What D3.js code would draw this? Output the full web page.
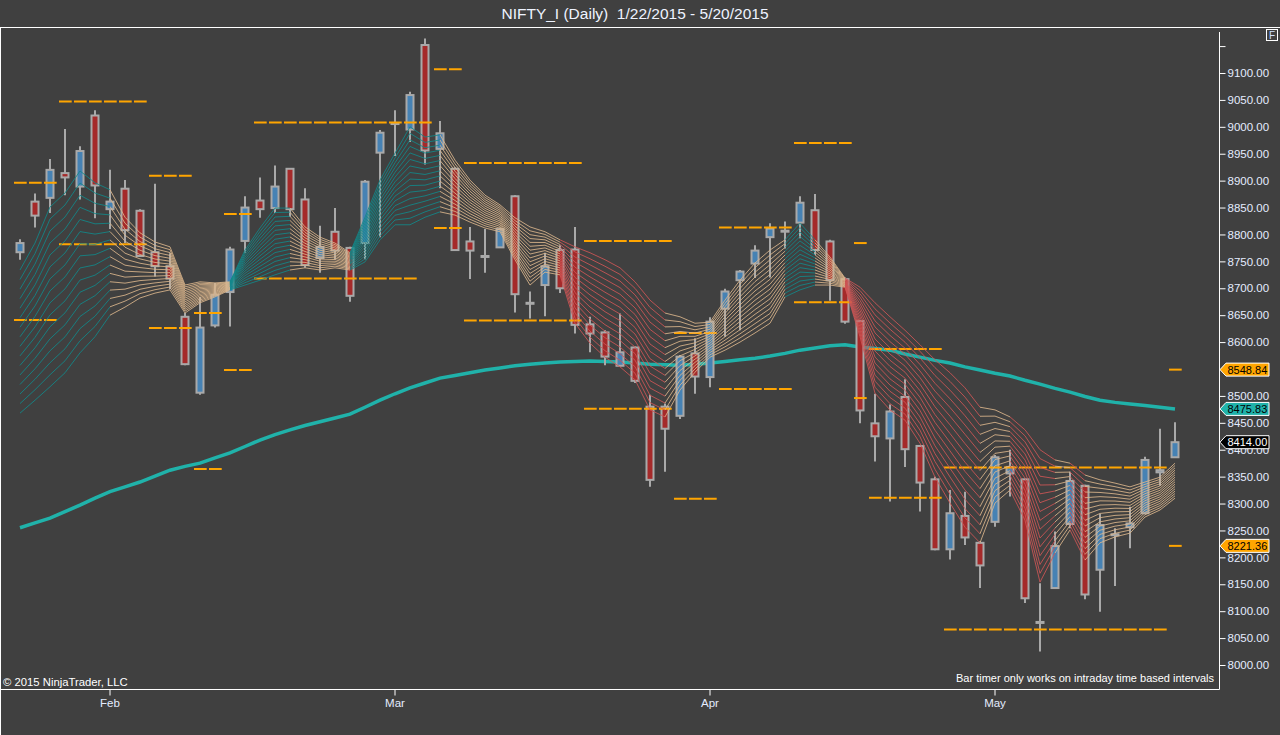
<!DOCTYPE html>
<html>
<head>
<meta charset="utf-8">
<script src="https://cdn.jsdelivr.net/npm/d3@7"></script>
<style>
  body { margin: 0; background: #404040; }
  svg { display: block; }
</style>
</head>
<body>
<div id="chart"></div>
<script>
// trading days shown on the chart
const dates = [
  "2015-01-22","2015-01-23","2015-01-27","2015-01-28","2015-01-29","2015-01-30",
  "2015-02-02","2015-02-03","2015-02-04","2015-02-05","2015-02-06","2015-02-09","2015-02-10","2015-02-11","2015-02-12","2015-02-13",
  "2015-02-16","2015-02-18","2015-02-19","2015-02-20","2015-02-23","2015-02-24","2015-02-25","2015-02-26","2015-02-27",
  "2015-03-02","2015-03-03","2015-03-04","2015-03-05","2015-03-09","2015-03-10","2015-03-11","2015-03-12","2015-03-13",
  "2015-03-16","2015-03-17","2015-03-18","2015-03-19","2015-03-20","2015-03-23","2015-03-24","2015-03-25","2015-03-26","2015-03-27",
  "2015-03-30","2015-03-31",
  "2015-04-01","2015-04-06","2015-04-07","2015-04-08","2015-04-09","2015-04-10","2015-04-13","2015-04-15","2015-04-16","2015-04-17",
  "2015-04-20","2015-04-21","2015-04-22","2015-04-23","2015-04-24","2015-04-27","2015-04-28","2015-04-29","2015-04-30",
  "2015-05-04","2015-05-05","2015-05-06","2015-05-07","2015-05-08","2015-05-11","2015-05-12","2015-05-13","2015-05-14","2015-05-15",
  "2015-05-18","2015-05-19","2015-05-20"
];

const open = [8767,8861,8868,8914,8889,9021,8847,8885,8844,8767,8741,8647,8506,8631,8693,8788,8863,8849,8922,8865,
  8756,8805,8775,8784,8952,9007,8995,9152,8959,8922,8787,8760,8776,8871,8673,8706,8771,8772,8633,8618,
  8556,8590,8480,8480,8463,8579,8535,8662,8715,8746,8795,8807,8822,8845,8787,8717,8639,8449,8421,8498,
  8407,8345,8215,8277,8227,8266,8356,8345,8080,8143,8262,8333,8177,8243,8256,8282,8358,8386];
const high = [8791,8876,8940,8996,8964,9031,8920,8901,8847,8894,8765,8654,8684,8710,8777,8871,8906,8928,8922,8886,
  8816,8849,8777,8901,8994,9031,9065,9164,9011,8925,8814,8810,8813,8873,8694,8766,8780,8814,8647,8622,
  8653,8592,8502,8486,8576,8607,8646,8699,8734,8780,8821,8824,8871,8875,8790,8720,8640,8504,8484,8531,
  8409,8350,8325,8322,8230,8390,8400,8346,8152,8248,8359,8335,8281,8254,8294,8387,8439,8451];
const low = [8753,8813,8840,8873,8865,8830,8810,8784,8758,8722,8698,8557,8502,8627,8629,8766,8831,8840,8833,8738,
  8729,8753,8675,8754,8795,8946,8972,8930,8886,8770,8717,8729,8775,8655,8644,8648,8691,8616,8581,8557,
  8555,8524,8331,8359,8457,8504,8516,8610,8622,8719,8720,8774,8793,8762,8677,8634,8449,8378,8304,8368,
  8285,8213,8196,8223,8143,8257,8313,8115,8025,8142,8254,8122,8099,8147,8217,8280,8333,8385];
const close = [8784,8835,8920,8906,8955,8891,8861,8808,8760,8741,8718,8559,8627,8688,8772,8850,8847,8889,8847,8743,
  8777,8770,8686,8898,8989,9007,9059,8956,8988,8771,8770,8760,8810,8689,8673,8741,8700,8632,8616,8573,
  8581,8528,8344,8439,8573,8536,8638,8694,8731,8770,8811,8807,8859,8771,8715,8638,8473,8425,8471,8401,
  8339,8215,8282,8237,8185,8386,8368,8124,8080,8221,8342,8131,8260,8243,8263,8381,8362,8414];

// slow moving average (thick teal line)
const sma = [8255,8264,8273,8285,8297,8310,8322,8331,8340,8351,8362,8369,8375,8385,8394,8406,8418,8428,8437,8445,
  8452,8459,8466,8479,8492,8504,8515,8524,8533,8538,8543,8548,8552,8556,8559,8561,8563,8564,8565,8564,
  8563,8561,8559,8558,8557,8559,8561,8564,8567,8570,8574,8579,8585,8589,8593,8595,8591,8588,8585,8578,
  8572,8566,8561,8554,8548,8542,8537,8529,8522,8514,8507,8499,8492,8488,8485,8482,8479,8475.83];

// moving average ribbon: upper and lower edge of the fan
const ribbonHi = [8734,8784,8851,8877,8918,8896,8883,8832,8803,8786,8777,8706,8712,8710,8712,8771,8812,8849,8849,8814,
  8795,8784,8766,8832,8901,8951,9000,8981,8985,8938,8901,8873,8855,8831,8814,8805,8790,8777,8766,8753,
  8738,8712,8678,8654,8647,8635,8637,8678,8715,8747,8771,8790,8821,8790,8758,8719,8702,8673,8647,8622,
  8595,8567,8543,8515,8479,8474,8461,8437,8400,8381,8375,8353,8344,8338,8331,8340,8349,8375];
const ribbonLo = [8468,8492,8517,8543,8580,8610,8650,8665,8682,8691,8697,8654,8673,8684,8697,8706,8715,8725,8734,8738,
  8734,8738,8734,8749,8790,8818,8818,8832,8842,8836,8823,8812,8805,8753,8706,8730,8725,8635,8598,8572,
  8554,8530,8474,8461,8511,8544,8572,8585,8600,8617,8635,8684,8697,8706,8706,8702,8610,8505,8474,8455,
  8412,8349,8301,8256,8227,8301,8325,8269,8154,8208,8251,8195,8227,8238,8245,8275,8288,8310];
// ribbon state of the segment ending at each bar: u = rising, n = flat, d = falling
const ribbonState = "-uuuuuunnnnnnnnuuuunnnnuuuuuunnnnnnnndddddddnnnnnnnnuunnddddddddd" + "nnddd" + "ndnnnnnn";

// orange weekly levels: first bar, last bar, price
const levelFrom  = [0,0,3,3,9,9,12,12,14,14,16,16,28,28,30,30,38,38,44,44,47,47,52,52,56,56,57,57,62,62,77,77];
const levelTo    = [2,2,8,8,11,11,13,13,15,15,27,26,29,29,37,37,43,43,46,46,51,51,55,55,56,56,61,61,76,76,77,77];
const levelPrice = [8896,8641,9047,8782,8909,8626,8654,8364,8838,8548,9008,8718,9107,8812,8933,8640,8788,8476,8617,8309,
  8813,8513,8970,8674,8784,8496,8587,8311,8367,8066,8548.84,8221.36];

const priceTicks = [8000,8050,8100,8150,8200,8250,8300,8350,8400,8450,8500,8550,8600,8650,8700,8750,8800,8850,8900,8950,9000,9050,9100,9150];
const monthTicks = ["2015-02-02","2015-03-02","2015-04-01","2015-05-04"];
const monthLabels = ["Feb","Mar","Apr","May"];

// price markers on the right axis
const tagValues = [8548.84, 8475.83, 8414.00, 8221.36];
const tagFills  = ["#ffa500", "#20b2aa", "#000000", "#ffa500"];
const tagText   = ["#000000", "#000000", "#ffffff", "#000000"];

const W = 1280, H = 735;
const font = "'Liberation Sans', Arial, sans-serif";

const svg = d3.select("#chart")
  .append("svg")
    .attr("width", W)
    .attr("height", H)
    .style("font-family", font);

svg.append("rect").attr("width", W).attr("height", H).attr("fill", "#404040");

// scales
const x = d3.scaleBand()
  .domain(dates)
  .range([12.5, 12.5 + dates.length * 15])
  .padding(0);
const cx = d => x(d) + x.bandwidth() / 2;

const y = d3.scaleLinear()
  .domain([8000, 9100])
  .range([665, 73]);

// title
svg.append("text")
  .attr("x", 635).attr("y", 19)
  .attr("text-anchor", "middle")
  .style("font-size", "15.5px")
  .style("white-space", "pre")
  .attr("fill", "#eef3ff")
  .text("NIFTY_I (Daily)  1/22/2015 - 5/20/2015");

// frame
svg.append("line").attr("x1", 0).attr("x2", W).attr("y1", 27.5).attr("y2", 27.5).attr("stroke", "#fff");
svg.append("line").attr("x1", 0.5).attr("x2", 0.5).attr("y1", 27.5).attr("y2", H).attr("stroke", "#fff");
svg.append("line").attr("x1", 0).attr("x2", 1219.5).attr("y1", 689.5).attr("y2", 689.5).attr("stroke", "#fff");
svg.append("line").attr("x1", 1219.5).attr("x2", 1219.5).attr("y1", 32).attr("y2", 689.5).attr("stroke", "#fff");

// "F" box
svg.append("rect").attr("x", 1266.5).attr("y", 29.5).attr("width", 11).attr("height", 11)
  .attr("fill", "none").attr("stroke", "#fff");
svg.append("text").attr("x", 1272).attr("y", 39).attr("text-anchor", "middle")
  .style("font-size", "10px").attr("fill", "#cfe0ff").text("F");

// right price axis
const yAxis = svg.append("g")
  .attr("transform", "translate(1219.5,0)")
  .call(d3.axisRight(y).tickValues(priceTicks).tickSize(6).tickPadding(2)
    .tickFormat(d => d > 9100 ? "" : d3.format(".2f")(d)));
yAxis.select(".domain").remove();
yAxis.selectAll("line").attr("stroke", "#fff");
yAxis.selectAll("text").attr("fill", "#e4ecff").style("font-size", "11.5px").style("font-family", font);

// bottom month axis
const xAxis = svg.append("g")
  .attr("transform", "translate(0,689.5)")
  .call(d3.axisBottom(x).tickValues(monthTicks).tickSize(6).tickPadding(3)
    .tickFormat((d, i) => monthLabels[i]));
xAxis.select(".domain").remove();
xAxis.selectAll("line").attr("stroke", "#fff");
xAxis.selectAll("text").attr("fill", "#e4ecff").style("font-size", "11.5px").style("font-family", font);

// slow moving average
svg.append("path")
  .datum(sma)
  .attr("fill", "none")
  .attr("stroke", "#20b2aa")
  .attr("stroke-width", 3.5)
  .attr("d", d3.line().x((d, i) => cx(dates[i])).y(d => y(d)));

// candles
const bars = d3.range(dates.length);
const candle = svg.append("g").selectAll("g")
  .data(bars)
  .join("g");

candle.append("line")
  .attr("x1", i => cx(dates[i])).attr("x2", i => cx(dates[i]))
  .attr("y1", i => y(high[i])).attr("y2", i => y(low[i]))
  .attr("stroke", "#a9a9a9")
  .attr("stroke-width", 2);

candle.append("rect")
  .attr("x", i => cx(dates[i]) - 3.5)
  .attr("width", 7)
  .attr("y", i => y(Math.max(open[i], close[i])))
  .attr("height", i => Math.max(1, y(Math.min(open[i], close[i])) - y(Math.max(open[i], close[i]))))
  .attr("fill", i => close[i] > open[i] ? "#4682b4" : close[i] < open[i] ? "#a52a2a" : "#a9a9a9")
  .attr("stroke", "#a9a9a9")
  .attr("stroke-width", 2);

// orange levels
svg.append("g").selectAll("line")
  .data(levelPrice)
  .join("line")
    .attr("x1", (d, i) => x(dates[levelFrom[i]]) + 1.5)
    .attr("x2", (d, i) => x(dates[levelTo[i]]) + x.bandwidth() - 0.8)
    .attr("y1", d => y(d))
    .attr("y2", d => y(d))
    .attr("stroke", "#ffa500")
    .attr("stroke-width", 2)
    .attr("stroke-dasharray", "12.7,2.3");

// ribbon of moving averages, drawn over the candles
const ribbonColor = { u: "#12888a", n: "#dcb68c", d: "#cf5656" };
const nLines = 16;
const ribbon = svg.append("g").attr("fill", "none").attr("stroke-width", 1);
for (let k = 0; k < nLines; k++) {
  const t = k / (nLines - 1);
  const v = i => ribbonHi[i] + (ribbonLo[i] - ribbonHi[i]) * t;
  ribbon.append("g").selectAll("line")
    .data(bars.slice(1))
    .join("line")
      .attr("x1", i => cx(dates[i - 1]))
      .attr("x2", i => cx(dates[i]))
      .attr("y1", i => y(v(i - 1)))
      .attr("y2", i => y(v(i)))
      .attr("stroke", i => ribbonColor[ribbonState[i]])
      .attr("stroke-opacity", 0.85);
}

// price tags on the axis
const tag = svg.append("g").selectAll("g")
  .data(tagValues)
  .join("g")
    .attr("transform", d => `translate(1220,${y(d)})`);
tag.append("path")
  .attr("d", "M0,0 L6,-6.5 L49,-6.5 L49,6.5 L6,6.5 Z")
  .attr("fill", (d, i) => tagFills[i])
  .attr("stroke", "#ffffff")
  .attr("stroke-width", 1);
tag.append("text")
  .attr("x", 7.5).attr("dy", "0.36em")
  .style("font-size", "11px")
  .attr("fill", (d, i) => tagText[i])
  .text(d => d3.format(".2f")(d));

// footer notes
svg.append("text")
  .attr("x", 3).attr("y", 686)
  .style("font-size", "11.3px")
  .attr("fill", "#ffffff")
  .text("\u00a9 2015 NinjaTrader, LLC");
svg.append("text")
  .attr("x", 1214).attr("y", 682)
  .attr("text-anchor", "end")
  .style("font-size", "11px")
  .attr("fill", "#ffffff")
  .text("Bar timer only works on intraday time based intervals");
</script>
</body>
</html>
